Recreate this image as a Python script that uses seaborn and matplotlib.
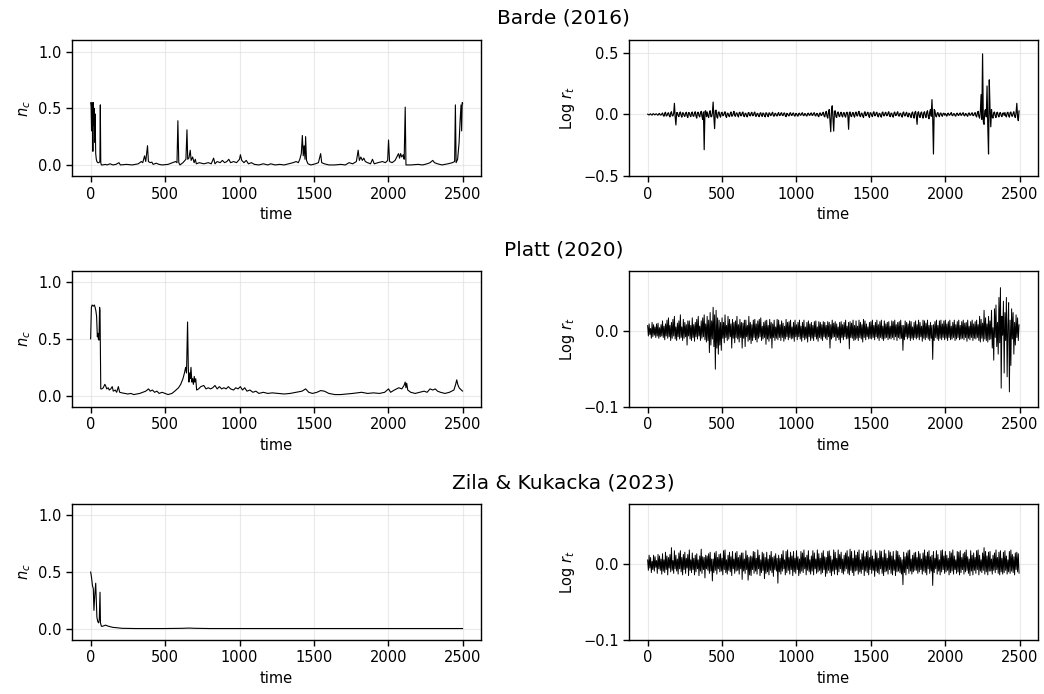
import numpy as np
import pandas as pd
import matplotlib
matplotlib.use("Agg")
import matplotlib.pyplot as plt
import seaborn as sns

# ---------------- data ----------------
models = ["Barde (2016)", "Platt (2020)", "Zila & Kukacka (2023)"]

# fraction of chartists n_c : (time, value) pairs
barde_nc_t = [0, 3, 6, 9, 12, 15, 18, 21, 24, 27, 30, 34, 38, 42, 48, 55, 62, 65, 68, 72,
              80, 100, 110, 130, 150, 170, 190, 200, 240, 280, 320, 340, 350, 362, 370, 382, 388, 400, 411, 420,
              440, 460, 480, 520, 550, 570, 580, 586, 592, 600, 620, 640, 647, 652, 660, 669, 675, 685, 695, 703,
              710, 730, 760, 790, 810, 826, 835, 850, 870, 885, 900, 915, 928, 940, 960, 980, 1000, 1006, 1015, 1030,
              1045, 1060, 1080, 1100, 1130, 1160, 1190, 1210, 1240, 1270, 1300, 1330, 1360, 1380, 1395, 1405, 1415, 1422, 1428, 1434,
              1440, 1444, 1450, 1460, 1480, 1510, 1530, 1545, 1552, 1570, 1600, 1640, 1680, 1710, 1736, 1760, 1785, 1797, 1805, 1815,
              1825, 1835, 1845, 1860, 1880, 1893, 1905, 1930, 1960, 1980, 1995, 2001, 2008, 2025, 2045, 2060, 2068, 2075, 2082, 2090,
              2100, 2106, 2113, 2118, 2150, 2200, 2230, 2260, 2280, 2298, 2310, 2330, 2360, 2400, 2430, 2445, 2450, 2455, 2465, 2475,
              2482, 2488, 2492, 2496, 2499]
barde_nc_v = [0.55, 0.52, 0.30, 0.55, 0.40, 0.12, 0.55, 0.35, 0.50, 0.20, 0.45, 0.10, 0.05, 0.03, 0.02, 0.02, 0.03, 0.53, 0.02, 0.0,
              0.0, 0.005, 0.0, 0.01, 0.0, 0.005, 0.02, 0.0, 0.005, 0.0, 0.01, 0.03, 0.02, 0.08, 0.03, 0.17, 0.03, 0.02, 0.025, 0.005,
              0.015, 0.005, 0.0, 0.005, 0.02, 0.03, 0.02, 0.39, 0.02, 0.0, 0.02, 0.05, 0.31, 0.05, 0.06, 0.13, 0.04, 0.07, 0.02, 0.05,
              0.01, 0.02, 0.01, 0.02, 0.01, 0.06, 0.01, 0.03, 0.02, 0.04, 0.02, 0.03, 0.05, 0.02, 0.03, 0.02, 0.05, 0.09, 0.04, 0.02,
              0.04, 0.01, 0.02, 0.005, 0.0, 0.01, 0.0, 0.01, 0.0, 0.005, 0.0, 0.01, 0.02, 0.03, 0.02, 0.05, 0.10, 0.26, 0.08, 0.17,
              0.05, 0.25, 0.04, 0.01, 0.0, 0.01, 0.02, 0.10, 0.02, 0.01, 0.0, 0.0, 0.005, 0.0, 0.02, 0.01, 0.03, 0.13, 0.04, 0.07,
              0.04, 0.06, 0.03, 0.02, 0.01, 0.05, 0.01, 0.02, 0.03, 0.02, 0.04, 0.22, 0.03, 0.02, 0.04, 0.08, 0.10, 0.06, 0.10, 0.07,
              0.09, 0.05, 0.51, 0.0, 0.0, 0.005, 0.0, 0.01, 0.02, 0.04, 0.02, 0.01, 0.0, 0.01, 0.02, 0.03, 0.53, 0.02, 0.05, 0.20,
              0.40, 0.53, 0.30, 0.55, 0.54]

platt_nc_t = [0, 5, 10, 18, 25, 30, 35, 40, 45, 48, 52, 56, 60, 63, 66, 68, 75, 85, 95, 100,
              108, 118, 125, 135, 145, 152, 165, 175, 186, 195, 210, 230, 250, 270, 290, 310, 330, 350, 370, 389,
              400, 415, 430, 445, 460, 480, 500, 520, 546, 565, 590, 605, 620, 630, 638, 644, 651, 656, 660, 664,
              668, 674, 680, 685, 690, 696, 700, 706, 712, 725, 740, 760, 775, 790, 805, 820, 835, 850, 865, 880,
              895, 910, 925, 940, 960, 975, 990, 1006, 1020, 1035, 1050, 1070, 1090, 1110, 1130, 1160, 1190, 1220, 1260, 1300,
              1340, 1380, 1420, 1444, 1465, 1490, 1520, 1545, 1570, 1600, 1640, 1680, 1720, 1760, 1790, 1820, 1860, 1900, 1940, 1975,
              2001, 2015, 2040, 2070, 2090, 2105, 2113, 2118, 2123, 2130, 2150, 2180, 2210, 2240, 2260, 2280, 2298, 2315, 2330, 2350,
              2380, 2410, 2440, 2452, 2459, 2466, 2475, 2490, 2499]
platt_nc_v = [0.50, 0.78, 0.80, 0.79, 0.80, 0.78, 0.75, 0.70, 0.52, 0.55, 0.50, 0.49, 0.78, 0.75, 0.30, 0.06, 0.06, 0.07, 0.10, 0.09,
              0.06, 0.07, 0.05, 0.06, 0.08, 0.04, 0.05, 0.03, 0.08, 0.03, 0.025, 0.02, 0.015, 0.02, 0.01, 0.015, 0.02, 0.03, 0.04, 0.06,
              0.04, 0.05, 0.03, 0.04, 0.02, 0.03, 0.02, 0.01, 0.02, 0.04, 0.07, 0.10, 0.15, 0.20, 0.25, 0.20, 0.65, 0.25, 0.12, 0.20,
              0.15, 0.25, 0.12, 0.15, 0.10, 0.17, 0.12, 0.15, 0.05, 0.06, 0.08, 0.09, 0.06, 0.07, 0.06, 0.07, 0.09, 0.06, 0.08, 0.06,
              0.07, 0.06, 0.08, 0.06, 0.05, 0.07, 0.06, 0.08, 0.05, 0.07, 0.04, 0.05, 0.03, 0.04, 0.02, 0.03, 0.02, 0.025, 0.02, 0.015,
              0.02, 0.03, 0.04, 0.06, 0.03, 0.02, 0.03, 0.045, 0.04, 0.02, 0.01, 0.01, 0.015, 0.02, 0.025, 0.03, 0.02, 0.025, 0.02, 0.03,
              0.06, 0.03, 0.05, 0.07, 0.06, 0.09, 0.12, 0.07, 0.11, 0.05, 0.03, 0.02, 0.03, 0.04, 0.03, 0.06, 0.05, 0.06, 0.04, 0.03,
              0.02, 0.03, 0.05, 0.10, 0.14, 0.10, 0.07, 0.05, 0.04]

zila_nc_t = [0, 6, 12, 18, 22, 28, 34, 38, 42, 48, 54, 58, 63, 66, 72, 80, 90, 100, 110, 120,
             135, 150, 170, 190, 210, 300, 500, 620, 660, 700, 800, 2499]
zila_nc_v = [0.50, 0.45, 0.38, 0.35, 0.16, 0.30, 0.40, 0.25, 0.10, 0.06, 0.05, 0.08, 0.32, 0.05, 0.02, 0.02, 0.025, 0.03, 0.025, 0.02,
             0.015, 0.01, 0.008, 0.005, 0.002, 0.0, 0.0, 0.002, 0.004, 0.002, 0.0, 0.0]

# log returns, sampled every 5 time steps (values in thousandths), one row = 100 steps
ret_step = 5
barde_ret_milli = [
    3, -2, -4, 2, 5, -3, -5, 4, 6, -2, -3, 4, 4, -3, -6, 5, 8, -4, -5, 3,
    12, -8, -15, 10, 18, -12, -10, 8, 14, -9, -20, 12, 22, -10, -12, 8, 90, -20, -85, 15,
    15, -10, -18, 12, 20, -8, -22, 14, 12, -9, -16, 10, 18, -12, -25, 15, 14, -8, -18, 12,
    20, -12, -15, 10, 22, -14, -30, 16, 18, -10, -20, 12, 25, -15, -40, 20, -285, 25, 30, -18,
    20, -12, -25, 15, 30, -18, -18, 12, 100, -20, -115, 30, 35, -20, -30, 18, 20, -10, -22, 14,
    18, -10, -8, 12, 22, -14, -25, 10, 10, -12, -18, 8, 20, -14, -12, 9, 25, -10, -15, 12,
    12, -9, -20, 14, 18, -10, -10, 12, 20, -12, -18, 9, 9, -14, -20, 12, 16, -8, -12, 10,
    18, -10, -9, 12, 20, -14, -15, 8, 8, -12, -18, 10, 14, -9, -16, 12, 7, -10, -20, 14,
    10, -8, -18, 12, 12, -9, -7, 10, 18, -12, -14, 8, 9, -10, -12, 7, 15, -9, -8, 10,
    14, -8, -9, 10, 12, -10, -18, 9, 6, -8, -12, 10, 14, -7, -8, 9, 12, -10, -14, 8,
    7, -9, -14, 8, 10, -6, -6, 9, 14, -8, -10, 7, 5, -9, -13, 8, 10, -6, -7, 9,
    12, -8, -6, 10, 14, -9, -12, 8, 8, -12, -18, 10, 12, -8, -7, 10, 18, -12, -20, 14,
    25, -15, -30, 20, 40, -50, -140, 30, 70, -40, -135, 25, 30, -18, -25, 15, 20, -12, -18, 10,
    18, -10, -20, 12, 15, -12, -22, 14, 18, -10, -120, 15, 20, -12, -18, 10, 16, -9, -22, 12,
    20, -10, -12, 14, 25, -12, -18, 10, 10, -14, -25, 12, 22, -10, -9, 12, 18, -12, -24, 14,
    12, -9, -18, 14, 22, -10, -10, 12, 18, -12, -20, 9, 8, -12, -22, 14, 20, -10, -11, 12,
    18, -10, -9, 12, 22, -12, -18, 10, 10, -14, -22, 12, 20, -9, -8, 12, 22, -10, -14, 9,
    9, -12, -22, 14, 20, -10, -12, 9, 18, -12, -20, 10, 8, -14, -25, 12, 20, -12, -30, 15,
    25, -12, -80, 15, 22, -14, -25, 12, 20, -10, -30, 14, 22, -12, -25, 18, 30, -15, -35, 20,
    40, -15, 120, -30, -320, 40, 30, -12, -20, 10, 15, -8, -18, 9, 12, -7, -15, 8, 10, -6,
    7, -5, -14, 8, 10, -6, -5, 7, 15, -8, -10, 6, 6, -9, -14, 8, 10, -6, -8, 7,
    12, -7, -6, 9, 14, -8, -12, 7, 5, -8, -15, 9, 12, -6, -6, 8, 14, -9, -9, 7,
    15, -10, -20, 12, 25, -15, -30, 20, 160, -40, 490, -60, -80, 30, 40, -20, 230, -100, -320, 280,
    50, -100, 40, -20, -30, 15, 20, -12, -25, 14, 18, -10, -20, 12, 15, -9, -18, 10, 12, -8,
    16, -10, -20, 12, 18, -9, -22, 14, 20, -10, -15, 9, 22, -12, -25, 15, 90, -20, -50, 30]
platt_ret_milli = [
    8, -6, 10, -4, 4, -9, 12, -7, 9, -5, 6, -8, 10, -6, 11, -9, 5, -7, 9, -6,
    14, -8, 7, -11, 10, -6, 15, -9, 18, -7, 8, -12, 12, -9, 16, -6, 20, -10, 6, -12,
    11, -7, 14, -10, 22, -8, 6, -12, 16, -9, 12, -7, 9, -18, 14, -6, 14, -10, 8, -12,
    18, -8, 9, -13, 12, -7, 16, -10, 20, -6, 7, -12, 14, -9, 18, -7, 22, -11, 10, -14,
    20, -12, 15, -28, 25, -18, 14, -10, 32, -20, 22, -50, 28, -22, 18, -30, 15, -18, 12, -25,
    18, -9, 12, -15, 22, -8, 8, -12, 20, -10, 16, -7, 10, -22, 16, -9, 12, -15, 14, -8,
    20, -10, 9, -14, 16, -8, 12, -22, 11, -9, 15, -20, 15, -7, 8, -13, 20, -11, 12, -16,
    9, -12, 15, -8, 16, -11, 10, -14, 14, -9, 16, -7, 18, -12, 7, -10, 12, -8, 14, -17,
    15, -10, 8, -13, 16, -9, 12, -22, 10, -8, 15, -12, 6, -9, 16, -11, 15, -8, 9, -12,
    14, -8, 11, -13, 7, -10, 16, -7, 12, -11, 13, -8, 15, -10, 6, -9, 12, -13, 15, -7,
    9, -11, 12, -7, 15, -10, 7, -13, 12, -8, 15, -11, 6, -9, 12, -14, 14, -7, 10, -12,
    12, -9, 8, -12, 13, -7, 14, -10, 6, -13, 13, -8, 12, -10, 9, -12, 13, -7, 12, -9,
    8, -11, 13, -7, 12, -22, 9, -10, 15, -8, 11, -7, 13, -12, 10, -8, 6, -11, 12, -15,
    13, -8, 9, -11, 12, -7, 15, -10, 7, -9, 12, -23, 13, -8, 11, -9, 15, -12, 8, -11,
    14, -9, 7, -12, 15, -8, 12, -10, 9, -14, 16, -8, 14, -11, 10, -7, 6, -10, 12, -9,
    13, -10, 15, -8, 8, -11, 12, -7, 15, -9, 9, -12, 13, -8, 15, -10, 7, -12, 14, -9,
    10, -8, 12, -11, 13, -9, 7, -10, 14, -8, 13, -11, 15, -7, 9, -12, 12, -8, 13, -10,
    15, -9, 8, -25, 8, -11, 14, -7, 12, -10, 10, -8, 14, -12, 13, -9, 6, -11, 12, -8,
    14, -10, 9, -8, 15, -11, 12, -7, 7, -13, 15, -9, 14, -11, 11, -8, 15, -10, 8, -12,
    12, -9, 8, -37, 9, -12, 13, -8, 15, -10, 8, -12, 14, -9, 15, -11, 10, -8, 14, -11,
    15, -9, 10, -12, 13, -8, 15, -11, 7, -10, 12, -8, 15, -12, 9, -10, 13, -8, 15, -11,
    8, -10, 13, -9, 15, -11, 11, -8, 12, -13, 15, -9, 7, -11, 13, -8, 15, -12, 10, -9,
    13, -10, 15, -8, 9, -12, 20, -14, 16, -9, 11, -13, 28, -10, 18, -12, 10, -14, 20, -11,
    14, -10, 28, -22, 5, -38, 30, -8, 35, -20, 12, -30, 45, -15, 58, -75, 20, -5, 40, -55,
    25, -12, 45, -60, 8, 38, -80, 15, -45, 30, -10, 25, -30, 12, -18, 22, -8, 18, -12, 9]
zila_ret_milli = [
    6, -8, 12, -5, 9, -11, 4, -7, 12, -9, 10, -4, 5, -12, 13, -6, 11, -8, 7, -13,
    14, -9, 6, -11, 16, -7, 11, -14, 9, -5, 13, -10, 22, -8, 5, -12, 18, -6, 12, -9,
    7, -13, 15, -6, 18, -10, 9, -14, 13, -7, 16, -12, 8, -5, 13, -15, 19, -8, 6, -11,
    15, -7, 8, -14, 12, -10, 14, -6, 6, -15, 11, -9, 20, -12, 10, -7, 9, -18, 12, -6,
    11, -8, 14, -12, 16, -9, 7, -22, 7, -11, 15, -8, 17, -13, 9, -6, 13, -10, 14, -9,
    8, -14, 18, -7, 19, -11, 6, -13, 12, -8, 16, -10, 10, -15, 17, -6, 7, -12, 15, -9,
    17, -8, 9, -13, 12, -6, 15, -20, 15, -9, 7, -12, 18, -7, 12, -21, 9, -14, 11, -15,
    10, -7, 17, -12, 16, -9, 8, -13, 19, -6, 12, -15, 6, -11, 16, -8, 14, -19, 9, -12,
    16, -10, 7, -14, 12, -8, 17, -11, 9, -16, 11, -7, 14, -9, 8, -25, 12, -10, 8, -13,
    13, -9, 18, -6, 6, -14, 17, -11, 19, -8, 9, -13, 16, -7, 11, -15, 17, -10, 8, -12,
    18, -7, 10, -15, 7, -12, 17, -9, 15, -11, 19, -6, 9, -14, 12, -8, 18, -10, 6, -13,
    11, -9, 18, -14, 15, -6, 7, -12, 19, -10, 14, -8, 8, -13, 15, -11, 18, -7, 10, -16,
    9, -12, 17, -8, 18, -11, 11, -15, 6, -9, 19, -13, 16, -7, 8, -14, 19, -10, 13, -6,
    16, -11, 7, -13, 12, -9, 15, -6, 18, -12, 10, -14, 20, -8, 17, -11, 8, -15, 18, -9,
    12, -8, 16, -13, 19, -10, 6, -12, 14, -7, 18, -15, 10, -9, 16, -11, 18, -14, 9, -7,
    19, -12, 11, -8, 7, -16, 18, -9, 15, -11, 8, -13, 18, -6, 17, -12, 9, -15, 19, -10,
    14, -9, 8, -13, 18, -7, 16, -12, 11, -14, 17, -8, 6, -15, 18, -10, 17, -9, 12, -11,
    9, -13, 6, -27, 16, -11, 10, -14, 15, -6, 18, -12, 19, -9, 7, -13, 12, -10, 15, -8,
    16, -8, 9, -12, 17, -10, 14, -7, 7, -13, 15, -9, 19, -11, 11, -14, 16, -6, 18, -12,
    10, -9, 12, -28, 17, -11, 8, -6, 18, -13, 13, -9, 6, -14, 18, -10, 19, -7, 11, -12,
    17, -10, 12, -8, 8, -14, 17, -11, 15, -9, 19, -13, 11, -7, 6, -12, 17, -10, 16, -14,
    18, -11, 9, -7, 14, -13, 16, -10, 19, -8, 10, -12, 7, -15, 18, -9, 12, -14, 15, -8,
    9, -12, 18, -7, 19, -14, 12, -9, 6, -11, 15, -8, 22, -13, 17, -10, 11, -14, 16, -9,
    17, -9, 7, -13, 12, -8, 15, -11, 19, -7, 9, -12, 16, -14, 18, -10, 8, -13, 16, -11,
    18, -8, 11, -13, 6, -10, 17, -12, 19, -9, 13, -11, 10, -14, 15, -7, 16, -10, 14, -12]

nc_ticks = [0.0, 0.5, 1.0]
ret_ylims = [(-0.5, 0.6), (-0.1, 0.08), (-0.1, 0.08)]
ret_ticks = [[-0.5, 0.0, 0.5], [-0.1, 0.0], [-0.1, 0.0]]
xticks = [0, 500, 1000, 1500, 2000, 2500]

# ---------------- plot ----------------
sns.set_theme(style="ticks")
plt.rcParams["font.family"] = ["DejaVu Sans"]
plt.rcParams["mathtext.fontset"] = "dejavusans"
for key in ["text.color", "axes.labelcolor", "xtick.color", "ytick.color", "axes.edgecolor"]:
    plt.rcParams[key] = "black"

fig = plt.figure(figsize=(10.44, 6.94), dpi=100)

nc_series = [(barde_nc_t, barde_nc_v), (platt_nc_t, platt_nc_v), (zila_nc_t, zila_nc_v)]
ret_series = [barde_ret_milli, platt_ret_milli, zila_ret_milli]
ret_lw = [0.85, 0.7, 0.7]

bottoms = [0.746, 0.4135, 0.078]
title_y = [0.974, 0.640, 0.304]
W, H = 0.392, 0.196
left_x, right_x = 0.069, 0.6025

for i in range(3):
    axl = fig.add_axes([left_x, bottoms[i], W, H])
    axr = fig.add_axes([right_x, bottoms[i], W, H])

    df_nc = pd.DataFrame({"time": nc_series[i][0], "nc": nc_series[i][1]})
    sns.lineplot(data=df_nc, x="time", y="nc", ax=axl, color="black", lw=0.8)
    vals = np.array(ret_series[i]) / 1000.0
    df_r = pd.DataFrame({"time": np.arange(len(vals)) * ret_step, "r": vals})
    sns.lineplot(data=df_r, x="time", y="r", ax=axr, color="black", lw=ret_lw[i])

    axl.set_xlim(-125, 2624)
    axr.set_xlim(-125, 2624)
    axl.set_ylim(-0.1, 1.1)
    axl.set_yticks(nc_ticks)
    axr.set_ylim(*ret_ylims[i])
    axr.set_yticks(ret_ticks[i])
    axl.set_ylabel(r"$n_c$", fontsize=10.5)
    axr.set_ylabel(r"Log $r_t$", fontsize=10.5)
    for ax in (axl, axr):
        ax.set_xticks(xticks)
        ax.set_xlabel("time", fontsize=10.5)
        ax.tick_params(labelsize=10.5, length=4, width=1, direction="out", color="black")
        ax.grid(True, color="#dddddd", lw=0.8, alpha=0.6)
        for s in ax.spines.values():
            s.set_visible(True)
            s.set_color("black")
            s.set_linewidth(1.0)
    fig.text(0.54, title_y[i], models[i], ha="center", va="center", fontsize=14.5)

fig.savefig("out.png", dpi=100)
